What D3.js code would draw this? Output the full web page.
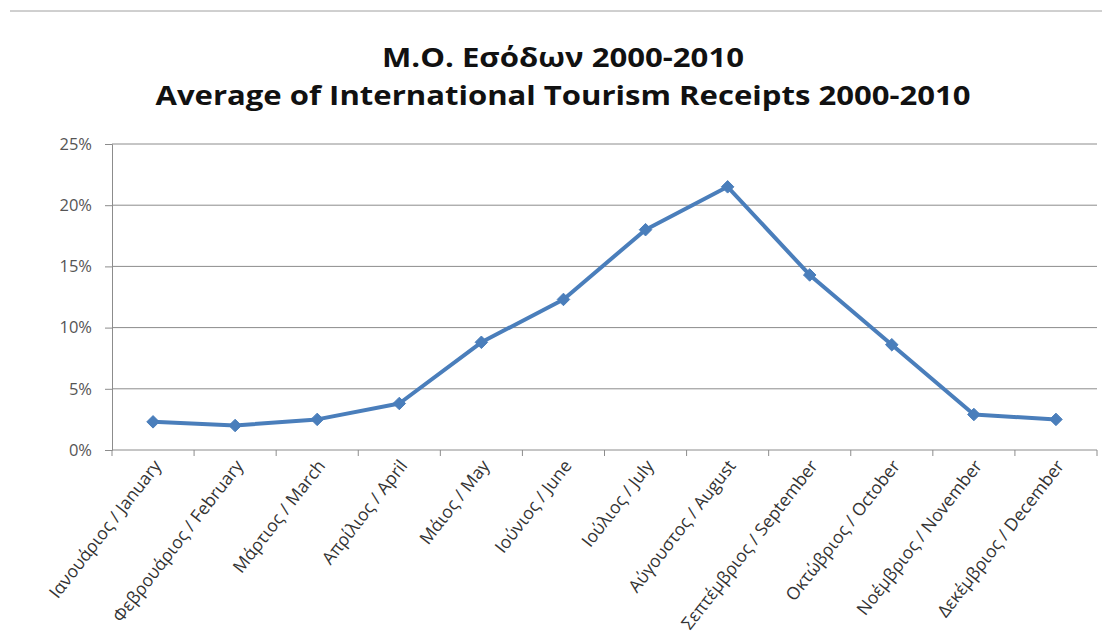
<!DOCTYPE html>
<html>
<head>
<meta charset="utf-8">
<script src="https://cdn.jsdelivr.net/npm/d3@7"></script>
<style>
  html, body { margin: 0; padding: 0; background: #fff; }
  svg { display: block; }
</style>
</head>
<body>
<svg id="chart" width="1102" height="634"></svg>
<script>
// Monthly share of the yearly average of international tourism receipts, 2000-2010
const months = [
  "Ιανουάριος / January",
  "Φεβρουάριος / February",
  "Μάρτιος / March",
  "Απρίλιος / April",
  "Μάιος / May",
  "Ιούνιος / June",
  "Ιούλιος / July",
  "Αύγουστος / August",
  "Σεπτέμβριος / September",
  "Οκτώβριος / October",
  "Νοέμβριος / November",
  "Δεκέμβριος / December"
];
const receiptsShare = [2.3, 2.0, 2.5, 3.8, 8.8, 12.3, 18.0, 21.5, 14.3, 8.6, 2.9, 2.5];
const yTicks = [0, 5, 10, 15, 20, 25];
const titleLines = ["Μ.Ο. Εσόδων 2000-2010", "Average of International Tourism Receipts 2000-2010"];
const titleWidths = [362, 815];

const svg = d3.select("#chart");
const W = 1102, H = 634;
const margin = { left: 112, right: 5, top: 144, bottom: 184 };

// Frame line across the top
svg.append("line")
  .attr("x1", 10).attr("x2", W).attr("y1", 11).attr("y2", 11)
  .attr("stroke", "#a0a0a0").attr("stroke-width", 1);

// Title, two lines
svg.selectAll("text.title")
  .data(titleLines)
  .join("text")
  .attr("class", "title")
  .attr("x", 563)
  .attr("y", (d, i) => 67 + i * 38)
  .attr("text-anchor", "middle")
  .attr("font-family", "'Open Sans', sans-serif")
  .attr("font-weight", "bold")
  .attr("font-size", 27)
  .attr("fill", "#111")
  .attr("textLength", (d, i) => titleWidths[i])
  .attr("lengthAdjust", "spacingAndGlyphs")
  .text(d => d);

const x = d3.scaleBand()
  .domain(months)
  .range([margin.left, W - margin.right])
  .paddingInner(0).paddingOuter(0);

const y = d3.scaleLinear()
  .domain([0, 25])
  .range([H - margin.bottom, margin.top]);

// Horizontal gridlines
svg.append("g")
  .selectAll("line")
  .data(yTicks.filter(t => t > 0))
  .join("line")
  .attr("x1", margin.left).attr("x2", W - margin.right)
  .attr("y1", d => y(d)).attr("y2", d => y(d))
  .attr("stroke", "#8c8c8c").attr("stroke-width", 1);

// Y axis
const yAxis = svg.append("g")
  .attr("transform", `translate(${margin.left},0)`)
  .call(d3.axisLeft(y).tickValues(yTicks).tickFormat(d => d + "%").tickSize(7).tickPadding(13));
yAxis.select(".domain").attr("stroke", "#8c8c8c");
yAxis.selectAll(".tick line").attr("stroke", "#8c8c8c");
yAxis.selectAll(".tick text")
  .attr("font-family", "'Open Sans', sans-serif")
  .attr("font-size", 16.5)
  .attr("fill", "#555");

// X axis with ticks on category boundaries
const xAxisG = svg.append("g")
  .attr("transform", `translate(0,${y(0)})`);
xAxisG.append("line")
  .attr("x1", margin.left).attr("x2", W - margin.right)
  .attr("y1", 0).attr("y2", 0)
  .attr("stroke", "#8c8c8c");
const boundaries = months.map(m => x(m)).concat([x(months[months.length - 1]) + x.bandwidth()]);
xAxisG.selectAll("line.tick")
  .data(boundaries)
  .join("line")
  .attr("class", "tick")
  .attr("x1", d => d).attr("x2", d => d)
  .attr("y1", 0).attr("y2", 6)
  .attr("stroke", "#8c8c8c");

xAxisG.selectAll("text.cat")
  .data(months)
  .join("text")
  .attr("class", "cat")
  .attr("text-anchor", "end")
  .attr("font-family", "'Open Sans', sans-serif")
  .attr("font-size", 17.5)
  .attr("fill", "#333")
  .attr("transform", d => `translate(${x(d) + x.bandwidth() / 2 + 9},${16}) rotate(-52)`)
  .text(d => d);

// Line series
const cx = i => x(months[i]) + x.bandwidth() / 2;
const line = d3.line()
  .x((d, i) => cx(i))
  .y(d => y(d));

svg.append("path")
  .datum(receiptsShare)
  .attr("fill", "none")
  .attr("stroke", "#4a7ebb")
  .attr("stroke-width", 4)
  .attr("stroke-linejoin", "round")
  .attr("d", line);

// Diamond markers
svg.append("g")
  .selectAll("path")
  .data(receiptsShare)
  .join("path")
  .attr("d", d3.symbol(d3.symbolDiamond2, 100))
  .attr("transform", (d, i) => `translate(${cx(i)},${y(d)})`)
  .attr("fill", "#4a7ebb")
  .attr("stroke", "#4a7ebb");
</script>
</body>
</html>
